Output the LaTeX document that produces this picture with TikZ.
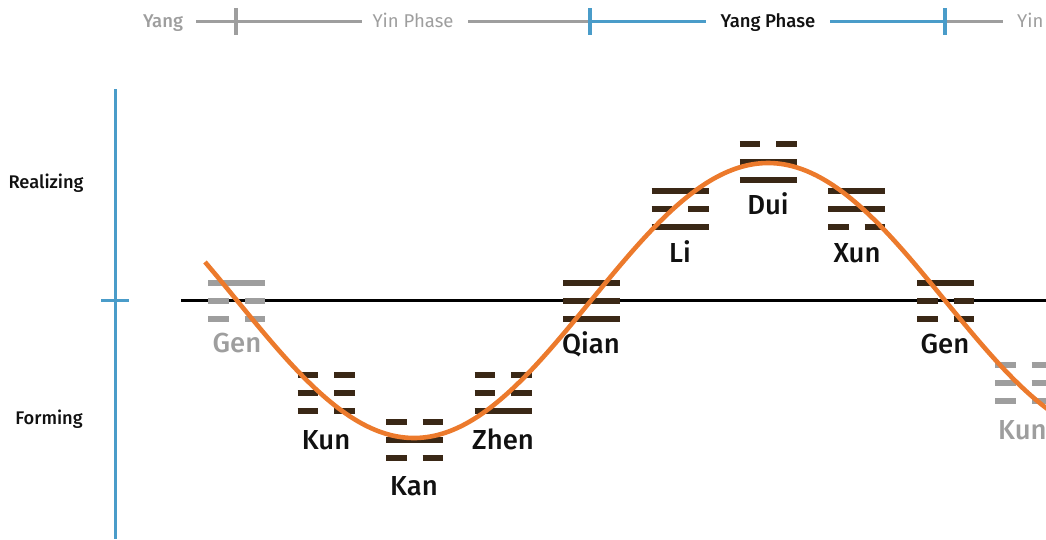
\documentclass[tikz,border=0pt]{standalone}
\usepackage{fontspec}
\setmainfont{Fira Sans}
\newfontfamily\medfont{Fira Sans Medium}
\newfontfamily\semifont{Fira Sans SemiBold}
\definecolor{wave}{RGB}{236,122,44}
\definecolor{yaoline}{RGB}{58,40,22}
\definecolor{faded}{RGB}{158,158,158}
\definecolor{axisblue}{RGB}{74,156,201}
\definecolor{ink}{RGB}{17,17,17}

% one line of a trigram: x, y (downwards), colour, 1 = solid / 0 = broken
\newcommand\yao[4]{%
  \ifnum#4=1
    \draw[yaobar,#3] ({#1-28.5},{-(#2)}) -- ({#1+28.5},{-(#2)});
  \else
    \draw[yaobar,#3] ({#1-28.5},{-(#2)}) -- ({#1-8},{-(#2)});
    \draw[yaobar,#3] ({#1+8},{-(#2)}) -- ({#1+28.5},{-(#2)});
  \fi}
% a trigram centred on its middle line: x, y, colour, top, middle, bottom
\newcommand\trigram[6]{%
  \yao{#1}{#2-18}{#3}{#4}%
  \yao{#1}{#2}{#3}{#5}%
  \yao{#1}{#2+18}{#3}{#6}}

\begin{document}
\begin{tikzpicture}[x=1pt,y=1pt,
  yaobar/.style={line width=6pt,line cap=butt},
  lab/.style={font=\medfont\fontsize{27.5}{27.5}\selectfont,anchor=base,inner sep=0pt,text=ink},
  fadedlab/.style={lab,text=faded},
  side/.style={font=\medfont\fontsize{18.3}{18.3}\selectfont,inner sep=0pt,text=ink},
  phase/.style={font=\fontsize{18.5}{18.5}\selectfont,anchor=base,inner sep=0pt},
  grayline/.style={draw=faded,line width=3pt},
  blueline/.style={draw=axisblue,line width=3pt},
  tick/.style={line width=3.5pt}]
\useasboundingbox (0,0) rectangle (1046,-539);
\clip (0,0) rectangle (1046,-539);

% ---- phase bar along the top
\node[phase,text=faded,font=\medfont\fontsize{18.5}{18.5}\selectfont] (yang) at (163,-27) {Yang};
\node[phase,text=faded] (yinphase) at (413,-27) {Yin Phase};
\node[phase,text=ink,font=\medfont\fontsize{18.5}{18.5}\selectfont] (yangphase) at (768,-27) {Yang Phase};
\node[phase,text=faded,anchor=base west] (yin) at (1017,-27) {Yin};
\coordinate (g0) at (196,-21);
\coordinate (g1) at (362,-21);
\coordinate (g2) at (468,-21);
\coordinate (b0) at (590,-21);
\coordinate (b1) at (706,-21);
\coordinate (b2) at (830,-21);
\coordinate (b3) at (945,-21);
\coordinate (g3) at (1003,-21);
\draw[grayline] (g0) -- (g1);
\draw[grayline] (g2) -- (b0);
\draw[blueline] (b0) -- (b1);
\draw[blueline] (b2) -- (b3);
\draw[grayline] (b3) -- (g3);
\draw[tick,faded] (236,-8) -- (236,-35);
\draw[tick,axisblue] ([yshift=13]b0) -- ([yshift=-14]b0);
\draw[tick,axisblue] ([yshift=13]b3) -- ([yshift=-14]b3);

% ---- vertical axis with its two halves
\coordinate (atop) at (115,-89);
\coordinate (abot) at (115,-539);
\draw[blueline] (atop) -- (abot);
\draw[tick,axisblue] (101,-300.5) -- (129,-300.5);
\node[side] (realizing) at (46,-183) {Realizing};
\node[side] (forming) at (49,-419) {Forming};

% ---- base line
\coordinate (m0) at (181,-300.5);
\coordinate (m1) at (1046,-300.5);
\draw[line width=2.3pt,black] (m0) -- (m1);

% ---- the eight trigrams
\trigram{236.5}{300.5}{faded}{1}{0}{0}
\trigram{326}{392.7}{yaoline}{0}{0}{0}
\trigram{414.5}{440}{yaoline}{0}{1}{0}
\trigram{503}{392.7}{yaoline}{0}{0}{1}
\trigram{591.5}{300.8}{yaoline}{1}{1}{1}
\trigram{680}{209}{yaoline}{1}{0}{1}
\trigram{768.3}{161.5}{yaoline}{0}{1}{1}
\trigram{856.5}{209}{yaoline}{1}{1}{0}
\trigram{945.5}{300.5}{yaoline}{1}{0}{0}
\trigram{1023.5}{383}{faded}{0}{0}{0}

\node[fadedlab] (gen0) at (237,-352) {Gen};
\node[lab] (kun) at (326,-449) {Kun};
\node[lab] (kan) at (414,-495) {Kan};
\node[lab] (zhen) at (503,-449) {Zhen};
\node[lab] (qian) at (591,-353) {Qian};
\node[lab] (li) at (680,-262) {Li};
\node[lab] (dui) at (768,-214) {Dui};
\node[lab] (xun) at (857,-262) {Xun};
\node[lab] (gen) at (945,-353) {Gen};
\node[fadedlab,anchor=base west] (kun2) at (998,-439) {Kun};

% ---- the wave
\draw[wave,line width=4.6pt]
  plot[domain=205:1050,samples=240,smooth] (\x,{-300.5+137.5*sin((\x-591)/708*360)});
\end{tikzpicture}
\end{document}
